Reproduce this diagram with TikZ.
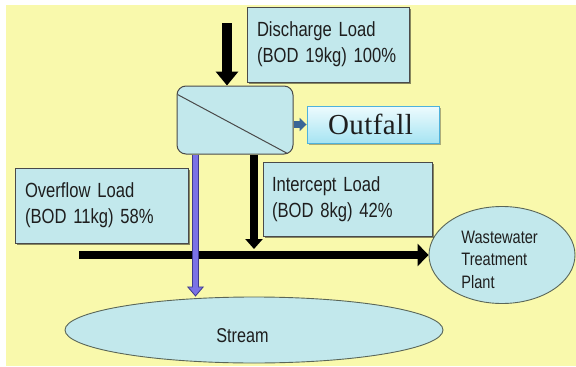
\documentclass[tikz,border=0pt]{standalone}
\usepackage{fontspec}
\setmainfont{Liberation Sans}[FakeStretch=0.81]
\newfontfamily\outfallfont{Liberation Serif}[LetterSpace=1.5]
\usetikzlibrary{arrows.meta,shadows,calc,shapes.geometric}

\definecolor{bgyellow}{HTML}{F9F9AC}
\definecolor{boxfill}{HTML}{C2E8EC}
\definecolor{boxline}{HTML}{4A4A4A}
\definecolor{outtop}{HTML}{EEFBFE}
\definecolor{outbottom}{HTML}{A6E4F2}
\definecolor{outline}{HTML}{4FB2DC}
\definecolor{outblue}{HTML}{3A6596}
\definecolor{arrowpurple}{HTML}{7A72E6}
\definecolor{purpleedge}{HTML}{3E3A8C}
\definecolor{ellline}{HTML}{5A6658}
\definecolor{inktext}{HTML}{1E1E1E}

\begin{document}
\begin{tikzpicture}[x=1pt,y=-1pt,
  loadbox/.style={draw=boxline, fill=boxfill, line width=0.8pt,
    inner xsep=10pt, inner ysep=0pt, align=left, text=inktext,
    font=\fontsize{20.5}{26}\selectfont,
    drop shadow={shadow xshift=1.5pt, shadow yshift=-1.5pt, opacity=0.45, fill=black}},
  sepbox/.style={draw=boxline, fill=boxfill, line width=1pt, rounded corners=9pt, inner sep=0pt},
  outbox/.style={draw=outline, line width=0.9pt, top color=outtop, bottom color=outbottom,
    inner sep=0pt, text=inktext,
    drop shadow={shadow xshift=2pt, shadow yshift=-2pt, opacity=0.3, fill=black}},
  pond/.style={ellipse, draw=ellline, fill=boxfill, line width=0.9pt, inner sep=0pt},
  plainlbl/.style={inner sep=0pt, align=left, text=inktext},
  bigflow/.style={black, line width=10pt, -{Triangle[width=22pt,length=14pt]}},
  mainflow/.style={black, line width=8.5pt, -{Triangle[width=22pt,length=11pt]}},
  sideflow/.style={black, line width=7.5pt, -{Triangle[width=17pt,length=10pt]}},
]
\useasboundingbox (0,0) rectangle (576,367);
\fill[white] (0,0) rectangle (576,367);
\fill[bgyellow] (6,5) rectangle (576,366);

% receiving bodies
\node[pond, minimum width=378pt, minimum height=66pt] (stream) at (254,330) {};
\node[plainlbl, font=\fontsize{20}{22}\selectfont] (streamlbl) at (242.5,335.5) {Stream};
\node[pond, minimum width=146pt, minimum height=97pt] (wwtp) at (502,255) {};
\node[plainlbl, font=\fontsize{18}{22.5}\selectfont] (wwtplbl) at (499.6,259.4) {Wastewater\\Treatment\\Plant};

% load boxes
\node[loadbox, text width=142pt, minimum height=75pt] (disch) at (328,44.5) {Discharge Load\\(BOD 19kg) 100\%};
\node[loadbox, text width=153pt, minimum height=75pt] (over) at (101.5,205.5) {Overflow Load\\(BOD 11kg) 58\%};
\node[loadbox, inner xsep=9pt, text width=151pt, minimum height=74pt] (inter) at (347.5,199) {Intercept Load\\(BOD 8kg) 42\%};

% separator chamber
\node[sepbox, minimum width=116pt, minimum height=68pt] (sep) at (235,120) {};
\draw[boxline, line width=1pt] ($(sep.north west)+(1,9)$) -- ($(sep.south east)+(-6,-1)$);

% outfall
\node[outbox, minimum width=132pt, minimum height=37pt] (outfall) at (373,124.5)
  {\outfallfont\fontsize{29}{29}\selectfont\hspace*{-5pt}Outfall};
\draw[outblue, line width=7pt, -{Triangle[width=13pt,length=7pt]}]
  (sep.east |- outfall.west) -- (outfall.west);

% inflow to the chamber
\coordinate (dischin) at (227,23);
\draw[bigflow] (dischin) -- (dischin |- sep.north);

% interceptor line to the treatment plant
\coordinate (mainstart) at (79,255);
\draw[mainflow] (mainstart) -- (wwtp.west);

% intercepted load
\coordinate (intertip) at (254,249);
\draw[sideflow] (sep.south -| intertip) -- (intertip);

% overflow to the stream
\path (sep.south west) ++(19,0) coordinate (ovtop);
\draw[purpleedge, line width=7.5pt,
  -{Triangle[width=17pt,length=10pt,fill=arrowpurple,line width=0.8pt]}]
  (ovtop) -- (ovtop |- stream.north);
\draw[arrowpurple, line width=5.5pt, shorten >=9pt] (ovtop) -- (ovtop |- stream.north);
\end{tikzpicture}
\end{document}
